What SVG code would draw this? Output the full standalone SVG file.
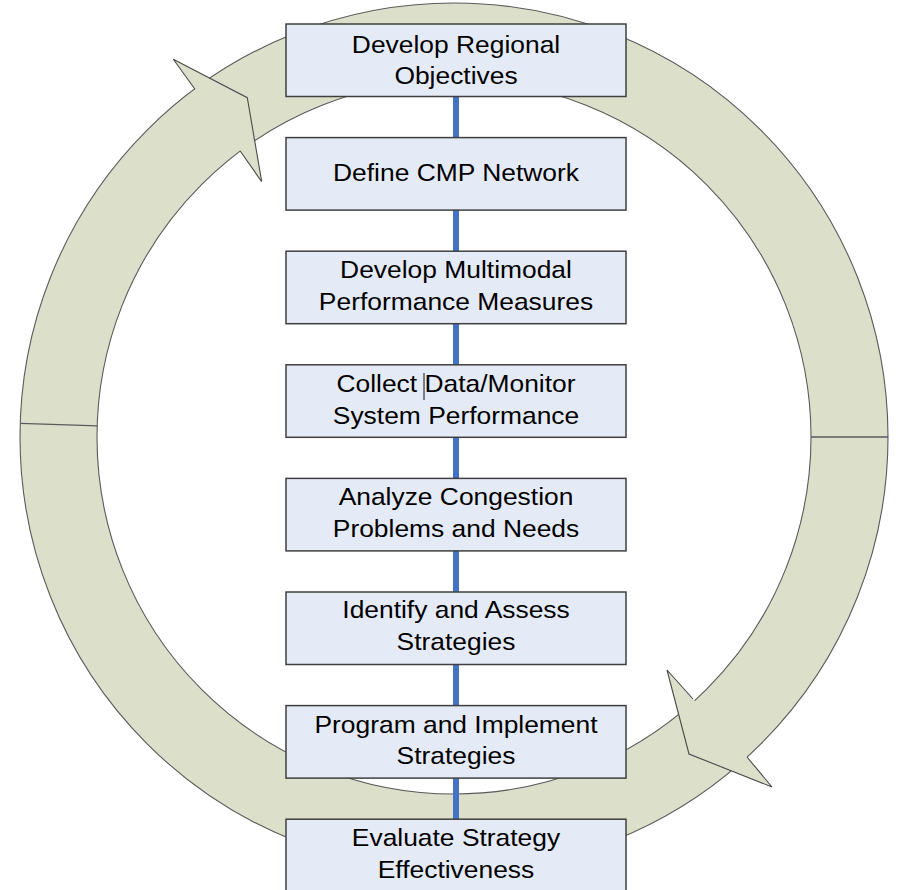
<svg xmlns="http://www.w3.org/2000/svg" width="902" height="890" viewBox="0 0 902 890">
<style>
.ring{fill:#DCE0CA;stroke:#5A5A5A;stroke-width:1.1;fill-rule:evenodd}
.ahf{fill:#DCE0CA;stroke:none}
.ahs{fill:none;stroke:#4A4A4A;stroke-width:1.1;stroke-linejoin:miter}
.div{stroke:#5A5A5A;stroke-width:1.3}
.box{fill:#E5EBF6;stroke:#3F3F3F;stroke-width:1.5}
.conn{stroke:#4472C4;stroke-width:6}
.t{font-family:"Liberation Sans",Arial,sans-serif;font-size:24px;fill:#000;text-anchor:middle}
</style>
<g id="cycle">
<path class="ring" d="M20,437 A434,434 0 1,0 888,437 A434,434 0 1,0 20,437 Z M97,437 A357,357 0 1,0 811,437 A357,357 0 1,0 97,437 Z"/>
<line class="div" x1="20.5" y1="423.4" x2="97.2" y2="425.8"/>
<line class="div" x1="811" y1="437" x2="888" y2="437"/>
<polygon class="ahf" points="195,89.3 173.3,59.3 247.3,97.7 261.7,181.7 240,150.7"/>
<polyline class="ahs" points="195,89.3 173.3,59.3 247.3,97.7 261.7,181.7 240,150.7"/>
<polygon class="ahf" points="693,699 667,670 689,754 772,787 747,757"/>
<polyline class="ahs" points="693,699 667,670 689,754 772,787 747,757"/>
</g>
<g id="connectors">
<line class="conn" x1="456" y1="97" x2="456" y2="138"/>
<line class="conn" x1="456" y1="210" x2="456" y2="252"/>
<line class="conn" x1="456" y1="324" x2="456" y2="365"/>
<line class="conn" x1="456" y1="437" x2="456" y2="479"/>
<line class="conn" x1="456" y1="551" x2="456" y2="592"/>
<line class="conn" x1="456" y1="664" x2="456" y2="706"/>
<line class="conn" x1="456" y1="778" x2="456" y2="819"/>
</g>
<g id="n1">
<rect class="box" x="286" y="24" width="340" height="72.5"/>
<text class="t" transform="translate(456 52.5) scale(1.1 1)">Develop Regional</text>
<text class="t" transform="translate(456 83.5) scale(1.1 1)">Objectives</text>
</g>
<g id="n2">
<rect class="box" x="286" y="137.6" width="340" height="72.5"/>
<text class="t" transform="translate(456 180.7) scale(1.1 1)">Define CMP Network</text>
</g>
<g id="n3">
<rect class="box" x="286" y="251.2" width="340" height="72.5"/>
<text class="t" transform="translate(456 278) scale(1.1 1)">Develop Multimodal</text>
<text class="t" transform="translate(456 310) scale(1.1 1)">Performance Measures</text>
</g>
<g id="n4">
<rect class="box" x="286" y="364.8" width="340" height="72.5"/>
<text class="t" transform="translate(456 391.8) scale(1.1 1)">Collect Data/Monitor</text>
<text class="t" transform="translate(456 423.6) scale(1.1 1)">System Performance</text>
<line x1="424" y1="373" x2="424" y2="400" stroke="#111" stroke-width="1"/>
</g>
<g id="n5">
<rect class="box" x="286" y="478.4" width="340" height="72.5"/>
<text class="t" transform="translate(456 505.4) scale(1.1 1)">Analyze Congestion</text>
<text class="t" transform="translate(456 537.2) scale(1.1 1)">Problems and Needs</text>
</g>
<g id="n6">
<rect class="box" x="286" y="592" width="340" height="72.5"/>
<text class="t" transform="translate(456 618.3) scale(1.1 1)">Identify and Assess</text>
<text class="t" transform="translate(456 650) scale(1.1 1)">Strategies</text>
</g>
<g id="n7">
<rect class="box" x="286" y="705.6" width="340" height="72.5"/>
<text class="t" transform="translate(456 732.6) scale(1.1 1)">Program and Implement</text>
<text class="t" transform="translate(456 764.4) scale(1.1 1)">Strategies</text>
</g>
<g id="n8">
<rect class="box" x="286" y="819.2" width="340" height="72.5"/>
<text class="t" transform="translate(456 846.2) scale(1.1 1)">Evaluate Strategy</text>
<text class="t" transform="translate(456 878) scale(1.1 1)">Effectiveness</text>
</g>
</svg>
